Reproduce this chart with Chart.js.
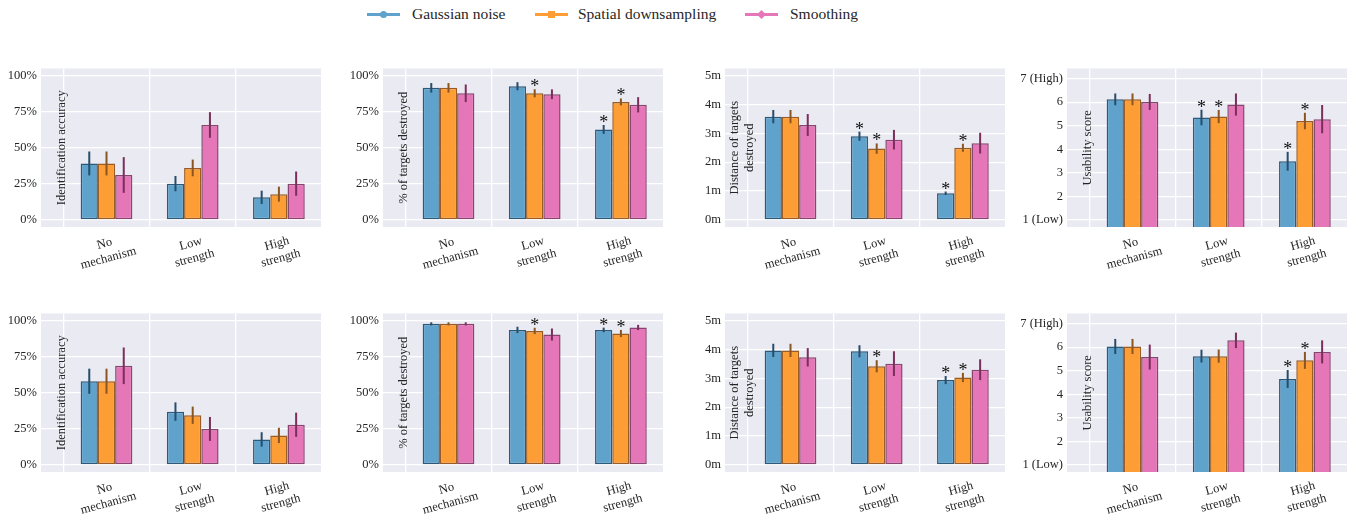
<!DOCTYPE html>
<html>
<head>
<meta charset="utf-8">
<script src="https://cdn.jsdelivr.net/npm/chart.js@4.4.0/dist/chart.umd.min.js"></script>
<style>
  body { margin: 0; background: #fff; width: 1358px; height: 520px; position: relative; overflow: hidden; font-family: "Liberation Serif", "Times New Roman", serif; }
  .panel { position: absolute; }
  .lg-line { position: absolute; height: 3px; }
  .lg-mark { position: absolute; }
  .lg-text { position: absolute; font-size: 15.5px; color: #262626; line-height: 20px; white-space: nowrap; }
  #probe { position: absolute; left: -200px; top: 0; font-family: "Liberation Serif"; }
</style>
</head>
<body>
<span id="probe">Aa*</span>
<script>
// ---- data ----
const categories = [['No', 'mechanism'], ['Low', 'strength'], ['High', 'strength']];
const seriesNames = ['Gaussian noise', 'Spatial downsampling', 'Smoothing'];

// y ticks
const pctTicks = [0, 25, 50, 75, 100];
const pctLabels = ['0%', '25%', '50%', '75%', '100%'];
const distTicks = [0, 1, 2, 3, 4, 5];
const distLabels = ['0m', '1m', '2m', '3m', '4m', '5m'];
const usabTicks = [1, 2, 3, 4, 5, 6, 7];
const usabLabels = ['1 (Low)', '2', '3', '4', '5', '6', '7 (High)'];

// top row: [gaussian, spatial, smoothing] per category
const accTop = [[39.1, 25.1, 15.6], [39.1, 36.0, 17.8], [31.1, 65.8, 25.1]];
const accTopErr = [[8.3, 5.3, 4.6], [8.3, 5.8, 5.2], [12.4, 8.9, 8.4]];
const accTopSig = [[0, 0, 0], [0, 0, 0], [0, 0, 0]];

const destTop = [[91.6, 92.7, 62.7], [91.6, 87.8, 81.8], [87.8, 87.1, 79.8]];
const destTopErr = [[3.3, 2.8, 3.1], [3.3, 2.8, 2.4], [6.1, 3.4, 5.3]];
const destTopSig = [[0, 0, 1], [0, 1, 1], [0, 0, 0]];

const distTop = [[3.58, 2.90, 0.92], [3.58, 2.47, 2.50], [3.29, 2.78, 2.66]];
const distTopErr = [[0.23, 0.16, 0.06], [0.23, 0.18, 0.14], [0.38, 0.34, 0.36]];
const distTopSig = [[0, 1, 1], [0, 1, 1], [0, 0, 0]];

const usabTop = [[6.12, 5.35, 3.49], [6.12, 5.39, 5.20], [6.01, 5.90, 5.28]];
const usabTopErr = [[0.25, 0.33, 0.40], [0.25, 0.28, 0.35], [0.34, 0.47, 0.60]];
const usabTopSig = [[0, 1, 1], [0, 1, 1], [0, 0, 0]];

// bottom row
const accBot = [[58.0, 36.9, 17.6], [58.0, 34.4, 20.4], [68.7, 24.9, 27.8]];
const accBotErr = [[8.7, 6.4, 5.0], [8.7, 6.0, 5.3], [12.7, 8.3, 8.4]];
const accBotSig = [[0, 0, 0], [0, 0, 0], [0, 0, 0]];

const destBot = [[97.8, 93.6, 93.6], [97.8, 92.9, 91.1], [97.8, 90.4, 95.3]];
const destBotErr = [[1.1, 2.2, 1.6], [1.1, 2.2, 2.5], [1.1, 4.2, 1.8]];
const destBotSig = [[0, 0, 1], [0, 1, 1], [0, 0, 0]];

const distBot = [[3.97, 3.94, 2.94], [3.97, 3.42, 3.03], [3.73, 3.51, 3.30]];
const distBotErr = [[0.23, 0.21, 0.14], [0.23, 0.21, 0.16], [0.32, 0.43, 0.36]];
const distBotSig = [[0, 0, 1], [0, 1, 1], [0, 0, 0]];

const usabBot = [[6.03, 5.62, 4.65], [6.03, 5.62, 5.44], [5.58, 6.29, 5.80]];
const usabBotErr = [[0.32, 0.27, 0.38], [0.32, 0.28, 0.36], [0.53, 0.33, 0.49]];
const usabBotSig = [[0, 0, 1], [0, 0, 1], [0, 0, 0]];

// ---- styles ----
const fills = ['#5fa2cc', '#fd9d36', '#e576b7'];
const edges = ['#2c5a7a', '#9a5c26', '#864670'];
const errColors = ['#264d6b', '#8a5520', '#7a2e5c'];
const FONT = '"Liberation Serif", "Times New Roman", serif';
const TXT = '#262626';

const PW = 281, PH = 166;
const lefts = [41, 383, 725, 1067];
const tops = [61, 306];

const panels = [
  { v: accTop, e: accTopErr, s: accTopSig, min: -5, max: 105, t: pctTicks, l: pctLabels, yl: ['Identification accuracy'] },
  { v: destTop, e: destTopErr, s: destTopSig, min: -5, max: 105, t: pctTicks, l: pctLabels, yl: ['% of targets destroyed'] },
  { v: distTop, e: distTopErr, s: distTopSig, min: -0.25, max: 5.25, t: distTicks, l: distLabels, yl: ['Distance of targets', 'destroyed'] },
  { v: usabTop, e: usabTopErr, s: usabTopSig, min: 0.7, max: 7.43, t: usabTicks, l: usabLabels, yl: ['Usability score'] },
  { v: accBot, e: accBotErr, s: accBotSig, min: -5, max: 105, t: pctTicks, l: pctLabels, yl: ['Identification accuracy'] },
  { v: destBot, e: destBotErr, s: destBotSig, min: -5, max: 105, t: pctTicks, l: pctLabels, yl: ['% of targets destroyed'] },
  { v: distBot, e: distBotErr, s: distBotSig, min: -0.25, max: 5.25, t: distTicks, l: distLabels, yl: ['Distance of targets', 'destroyed'] },
  { v: usabBot, e: usabBotErr, s: usabBotSig, min: 0.7, max: 7.43, t: usabTicks, l: usabLabels, yl: ['Usability score'] }
];

// background, error bars, stars, labels
const decoPlugin = p => ({
  id: 'deco',
  beforeDraw(chart) {
    const a = chart.chartArea, c = chart.ctx;
    c.save();
    c.fillStyle = '#eaeaf2';
    c.fillRect(a.left, a.top, a.right - a.left, a.bottom - a.top);
    c.restore();
  },
  afterDatasetsDraw(chart) {
    const c = chart.ctx, ys = chart.scales.y;
    c.save();
    chart.data.datasets.forEach((ds, s) => {
      chart.getDatasetMeta(s).data.forEach((bar, i) => {
        const val = ds.data[i].y, err = p.e[s][i];
        const yT = ys.getPixelForValue(val + err);
        const yB = ys.getPixelForValue(val - err);
        c.strokeStyle = errColors[s];
        c.lineWidth = 2;
        c.beginPath();
        c.moveTo(bar.x, yT);
        c.lineTo(bar.x, yB);
        c.stroke();
        if (p.s[s][i]) {
          c.fillStyle = '#111';
          c.font = '18px ' + FONT;
          c.textAlign = 'center';
          c.textBaseline = 'alphabetic';
          c.fillText('*', bar.x, yT + 3);
        }
      });
    });
    c.restore();
  },
  afterDraw(chart) {
    const c = chart.ctx, a = chart.chartArea, xs = chart.scales.x;
    c.save();
    c.fillStyle = TXT;
    c.font = '12.5px ' + FONT;
    c.textAlign = 'center';
    c.textBaseline = 'middle';
    // y label inside the plot
    const xOff = p.yl.length === 1 ? [21] : [10, 25];
    p.yl.forEach((line, k) => {
      c.save();
      c.translate(a.left + xOff[k], (a.top + a.bottom) / 2);
      c.rotate(-Math.PI / 2);
      c.fillText(line, 0, 0);
      c.restore();
    });
    // rotated category labels
    categories.forEach((lines, i) => {
      c.save();
      c.translate(xs.getPixelForValue(i), a.bottom + 24);
      c.rotate(-15 * Math.PI / 180);
      lines.forEach((line, k) => c.fillText(line, 0, (k - (lines.length - 1) / 2) * 15));
      c.restore();
    });
    c.restore();
  }
});

const padL = 62, padT = 4, padR = 4, padB = 56;

function build() {
  panels.forEach((p, n) => {
    const left = lefts[n % 4], top = tops[Math.floor(n / 4)];
    const div = document.createElement('div');
    div.className = 'panel';
    div.style.left = (left - padL) + 'px';
    div.style.top = (top - padT) + 'px';
    div.style.width = (PW + padL + padR) + 'px';
    div.style.height = (PH + padT + padB) + 'px';
    const cv = document.createElement('canvas');
    div.appendChild(cv);
    document.body.appendChild(div);

    new Chart(cv, {
      type: 'bar',
      data: {
        datasets: seriesNames.map((name, s) => ({
          label: name,
          data: p.v[s].map((y, i) => ({ x: i, y: y })),
          backgroundColor: fills[s],
          borderColor: edges[s],
          borderWidth: 1.5,
          borderSkipped: false,
          categoryPercentage: 0.6,
          barPercentage: 1.0
        }))
      },
      options: {
        responsive: true,
        maintainAspectRatio: false,
        animation: false,
        layout: { padding: { top: padT, right: padR, left: 0, bottom: 0 } },
        plugins: { legend: { display: false }, tooltip: { enabled: false } },
        scales: {
          x: {
            type: 'linear',
            min: -0.76,
            max: 2.5,
            offset: false,
            afterBuildTicks: ax => { ax.ticks = categories.map((c, i) => ({ value: i })); },
            afterFit: ax => { ax.height = padB; },
            ticks: { display: false },
            grid: { color: '#ffffff', lineWidth: 1.3, drawTicks: false },
            border: { display: false }
          },
          y: {
            min: p.min,
            max: p.max,
            afterBuildTicks: ax => { ax.ticks = p.t.map(v => ({ value: v })); },
            afterFit: ax => { ax.width = padL; },
            ticks: {
              callback: v => p.l[p.t.indexOf(v)],
              padding: 4,
              color: TXT,
              font: { family: FONT, size: 12.5 }
            },
            grid: { color: '#ffffff', lineWidth: 1.3, drawTicks: false },
            border: { display: false }
          }
        }
      },
      plugins: [decoPlugin(p)]
    });
  });
}

// ---- legend ----
const legendItems = [
  { x: 367, text: 412, mark: 'circle' },
  { x: 535, text: 578, mark: 'square' },
  { x: 745, text: 790, mark: 'diamond' }
];
legendItems.forEach((it, s) => {
  const ln = document.createElement('div');
  ln.className = 'lg-line';
  ln.style.left = it.x + 'px';
  ln.style.top = '12.5px';
  ln.style.width = '33px';
  ln.style.background = fills[s];
  document.body.appendChild(ln);
  const mk = document.createElement('div');
  mk.className = 'lg-mark';
  mk.style.background = fills[s];
  mk.style.width = '7px';
  mk.style.height = '7px';
  mk.style.left = (it.x + 13) + 'px';
  mk.style.top = '10.5px';
  if (it.mark === 'circle') mk.style.borderRadius = '50%';
  if (it.mark === 'diamond') mk.style.transform = 'rotate(45deg) scale(0.9, 0.9)';
  document.body.appendChild(mk);
  const tx = document.createElement('div');
  tx.className = 'lg-text';
  tx.style.left = it.text + 'px';
  tx.style.top = '4px';
  tx.textContent = seriesNames[s];
  document.body.appendChild(tx);
});

if (document.fonts && document.fonts.load) {
  document.fonts.load('12px "Liberation Serif"').then(build, build);
} else {
  build();
}
</script>
</body>
</html>
